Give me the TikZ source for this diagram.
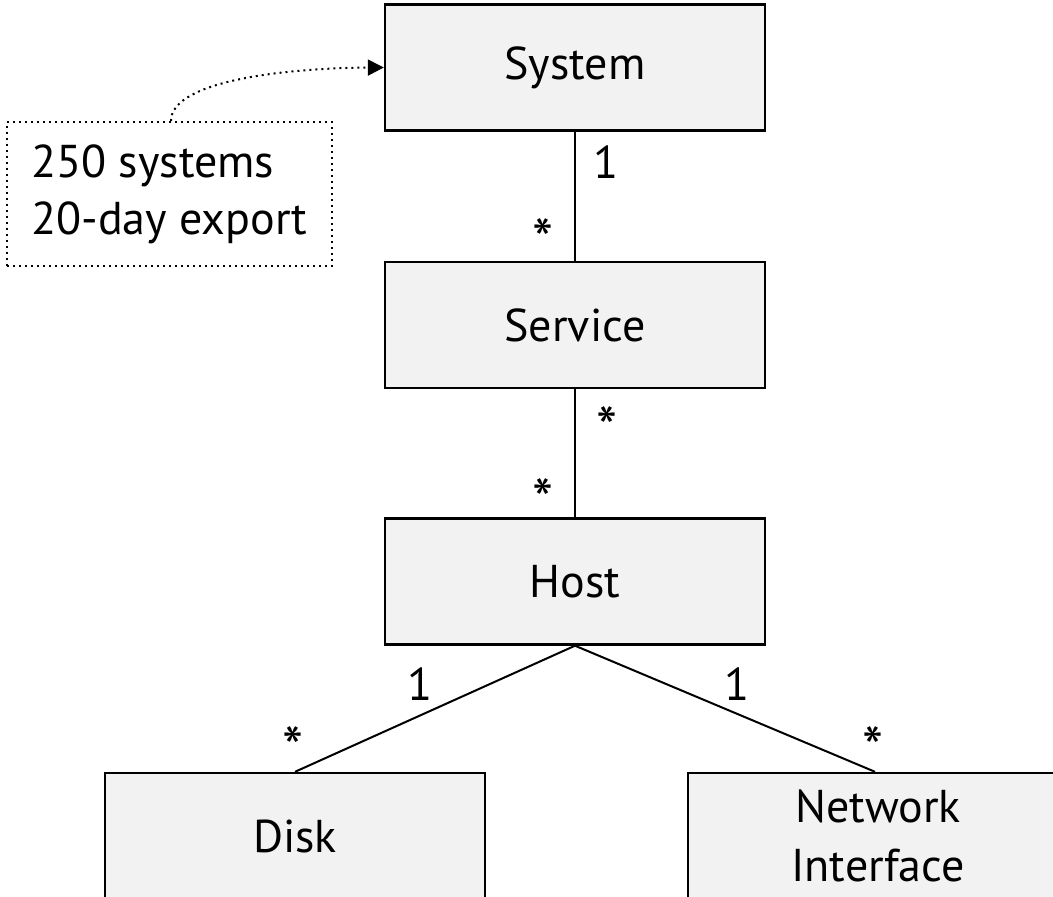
\documentclass[tikz,border=0pt]{standalone}
\usepackage{fontspec}
\setmainfont{PT Sans}
\usetikzlibrary{arrows.meta}
\definecolor{boxfill}{RGB}{242,242,242}
\tikzset{
  entity/.style={draw, fill=boxfill, line width=1.2pt, minimum width=190pt, minimum height=63pt, inner sep=0pt, align=center, font=\fontsize{23}{29.5}\selectfont},
  mult/.style={font=\fontsize{23}{27}\selectfont, inner sep=0pt},
  star/.style={font=\fontsize{30}{30}\selectfont, inner sep=0pt},
  link/.style={line width=1pt},
}
\begin{document}
\begin{tikzpicture}[x=0.5pt,y=0.5pt,yscale=-1,xscale=1]
\useasboundingbox (0,0) rectangle (1053,897);
\clip (0,0) rectangle (1053,897);
% Entities
\node[entity] (system) at (575,67.5) {System};
\node[entity] (service) at (575,325) {Service};
\node[entity] (host) at (575,581.5) {Host};
\node[entity] (disk) at (295,836) {Disk};
\node[entity] (nic) at (878,836) {Network\\Interface};
% Note
\node[draw, dotted, line width=1pt, minimum width=162.5pt, minimum height=72pt, inner sep=0pt, align=left, font=\fontsize{23}{28.5}\selectfont] (note) at (169.5,194) {250 systems\\20-day export};
% Associations
\draw[link] (system) -- (service);
\draw[link] (service) -- (host);
\draw[link] (host.south) -- (disk.north);
\draw[link] (host.south) -- (nic.north -| 875,0);
\draw[dotted, line width=1pt, -{Triangle[length=8pt,width=8pt]}] (note.north -| 171,0) .. controls (171,80) and (290,68) .. (system.west);
% Multiplicities
\node[mult] (m1) at (606,162) {1};
\node[star] (m2) at (543,240) {*};
\node[star] (m3) at (607,428) {*};
\node[star] (m4) at (543,500) {*};
\node[mult] (m5) at (420,684) {1};
\node[mult] (m6) at (737,684) {1};
\node[star] (m7) at (293,748) {*};
\node[star] (m8) at (873,748) {*};
\end{tikzpicture}
\end{document}
